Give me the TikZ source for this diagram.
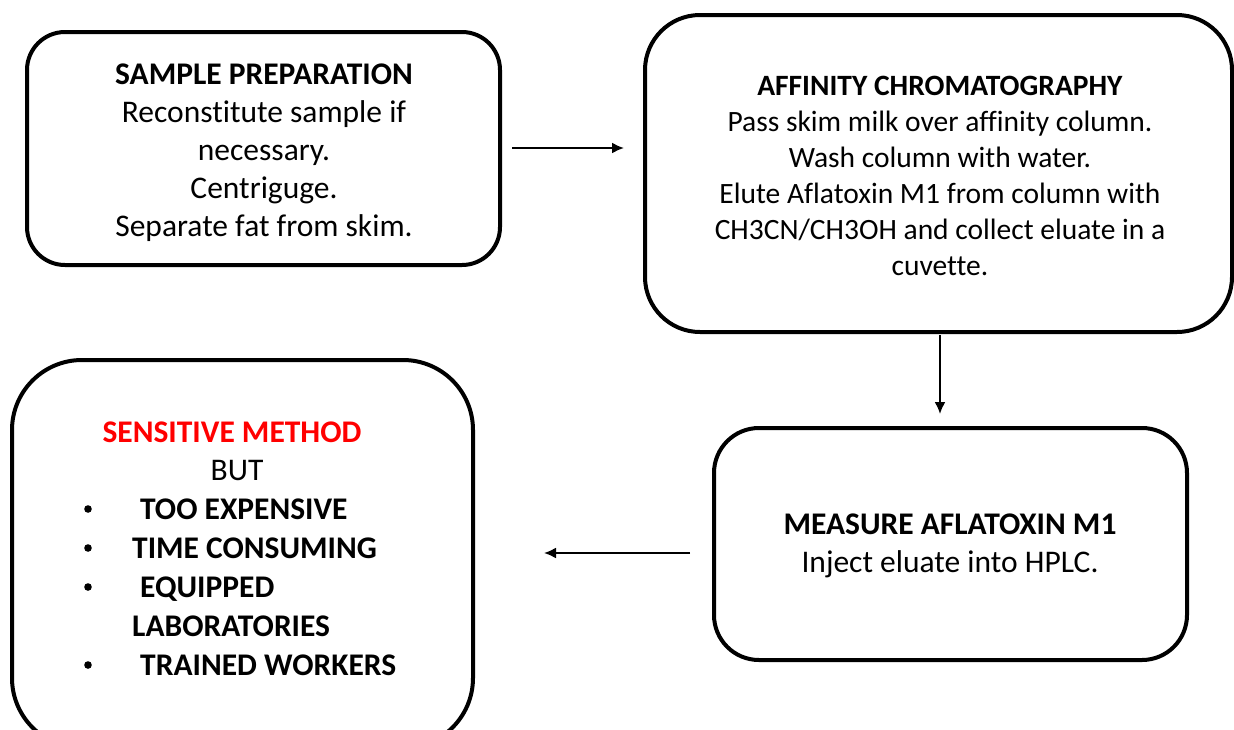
\documentclass[tikz,border=0pt]{standalone}
\usepackage{fontspec}
\setmainfont{Carlito}[Ligatures={NoCommon}]
\usetikzlibrary{arrows.meta}
\definecolor{redtxt}{RGB}{255,0,0}
\tikzset{
  box/.style={draw=black, line width=4pt, rounded corners=#1, fill=white},
  box/.default=40pt,
  txt/.style={align=center, inner sep=0pt, font=\fontsize{31.5}{38}\selectfont},
  line/.style={anchor=base west, inner sep=0pt, font=\fontsize{31.5}{38}\selectfont\bfseries},
  conn/.style={line width=2pt, -{Latex[length=12pt,width=11pt]}}
}
\begin{document}
\begin{tikzpicture}[x=1pt,y=-1pt]
\useasboundingbox (0,0) rectangle (1234,729);
% boxes
\draw[box=38pt] (27,32) rectangle (500,265);
\draw[box=55pt] (645,15) rectangle (1232,332);
\draw[box=45pt] (714,428) rectangle (1187,660);
\draw[box=70pt] (12,360) rectangle (473,748);
% box 1 text
\node[txt] (t1) at (264,153) {\textbf{SAMPLE PREPARATION}\\Reconstitute sample if\\necessary.\\Centriguge.\\Separate fat from skim.};
% box 2 text
\node[txt, font=\fontsize{29.5}{36}\selectfont] (t2) at (940,176) {\textbf{AFFINITY CHROMATOGRAPHY}\\Pass skim milk over affinity column.\\Wash column with water.\\Elute Aflatoxin M1 from column with\\CH3CN/CH3OH and collect eluate in a\\cuvette.};
% box 4 text
\node[txt] (t4) at (950,546) {\textbf{MEASURE AFLATOXIN M1}\\Inject eluate into HPLC.};
% box 3 text
\node[txt, text=redtxt, font=\fontsize{31.5}{38}\selectfont\bfseries] (s1) at (232,432) {SENSITIVE METHOD};
\node[txt] (s2) at (237,470) {BUT};
\node[line] (l1) at (140,519) {TOO EXPENSIVE};
\node[line] (l2) at (132,558) {TIME CONSUMING};
\node[line] (l3) at (140,597) {EQUIPPED};
\node[line] (l4) at (132,636) {LABORATORIES};
\node[line] (l5) at (140,675) {TRAINED WORKERS};
\foreach \n/\y in {b1/509,b2/548,b3/587,b5/665}
  \fill (88,\y) circle (3.8pt) coordinate (\n);
% connectors
\coordinate (a1s) at (512,148); \coordinate (a1e) at (624,148);
\coordinate (a2s) at (940,335); \coordinate (a2e) at (940,414);
\coordinate (a3s) at (690,553); \coordinate (a3e) at (544,553);
\draw[conn] (a1s) -- (a1e);
\draw[conn] (a2s) -- (a2e);
\draw[conn] (a3s) -- (a3e);
\end{tikzpicture}
\end{document}
